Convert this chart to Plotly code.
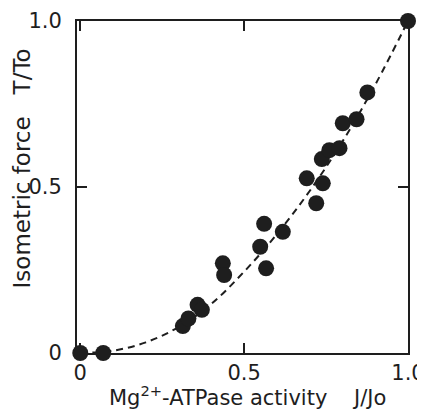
import plotly.graph_objects as go

# Measured points (J/Jo, T/To)
activity = [0.0, 0.07, 0.313, 0.330, 0.358, 0.371, 0.435, 0.439, 0.549, 0.561, 0.567,
            0.618, 0.691, 0.720, 0.737, 0.740, 0.760, 0.791, 0.801, 0.843, 0.876, 1.0]
force = [0.0, 0.0, 0.081, 0.104, 0.145, 0.130, 0.270, 0.235, 0.320, 0.389, 0.255,
         0.365, 0.526, 0.451, 0.584, 0.511, 0.611, 0.617, 0.692, 0.704, 0.785, 1.0]

# Dashed fitted curve
curve_x = [0.0, 0.1, 0.2, 0.3, 0.4, 0.5, 0.6, 0.7, 0.8, 0.9, 1.0]
curve_y = [0.0, 0.007, 0.032, 0.078, 0.148, 0.245, 0.358, 0.488, 0.637, 0.808, 1.0]

tick_vals = [0, 0.5, 1.0]
tick_text = ["0", "0.5", "1.0"]

ink = "#1e1e1e"
font_family = "DejaVu Sans, Verdana, sans-serif"
gap_x = "\u00a0\u00a0\u00a0 "
gap_y = "\u00a0\u00a0 "

fig = go.Figure()
fig.add_trace(go.Scatter(x=curve_x, y=curve_y, mode="lines",
                         line=dict(color=ink, width=2, dash="7px,5px", shape="spline"),
                         hoverinfo="skip", cliponaxis=False))
fig.add_trace(go.Scatter(x=activity, y=force, mode="markers",
                         marker=dict(color=ink, size=16, line=dict(width=0)),
                         cliponaxis=False))

axis_common = dict(
    showgrid=False, zeroline=False, showline=True, linecolor=ink, linewidth=2,
    mirror="allticks", ticks="inside", ticklen=10, tickwidth=2, tickcolor=ink,
    tickvals=tick_vals, ticktext=tick_text, automargin=False,
    tickfont=dict(family=font_family, size=21, color=ink),
)
fig.update_xaxes(range=[-0.01, 1.0], ticklabelstandoff=0, **axis_common)
fig.update_yaxes(range=[0, 1.0], ticklabelstandoff=9, **axis_common)

fig.add_annotation(text="Mg<sup>2+</sup>-ATPase activity" + gap_x + "J/Jo", xref="paper", yref="paper",
                   x=0.515, y=-0.131, yanchor="middle", xanchor="center", showarrow=False,
                   font=dict(family=font_family, size=21, color=ink))
fig.add_annotation(text="Isometric force" + gap_y + "T/To", xref="paper", yref="paper",
                   x=-0.166, y=0.556, textangle=-90, xanchor="center", yanchor="middle",
                   showarrow=False, font=dict(family=font_family, size=23, color=ink))

# page body adds an 8px offset; figure is sized so the plot lands where the reference has it
fig.update_layout(
    width=417, height=401, showlegend=False,
    margin=dict(l=69, r=17, t=13, b=56),
    paper_bgcolor="white", plot_bgcolor="white",
)
fig.write_html("out.html")
